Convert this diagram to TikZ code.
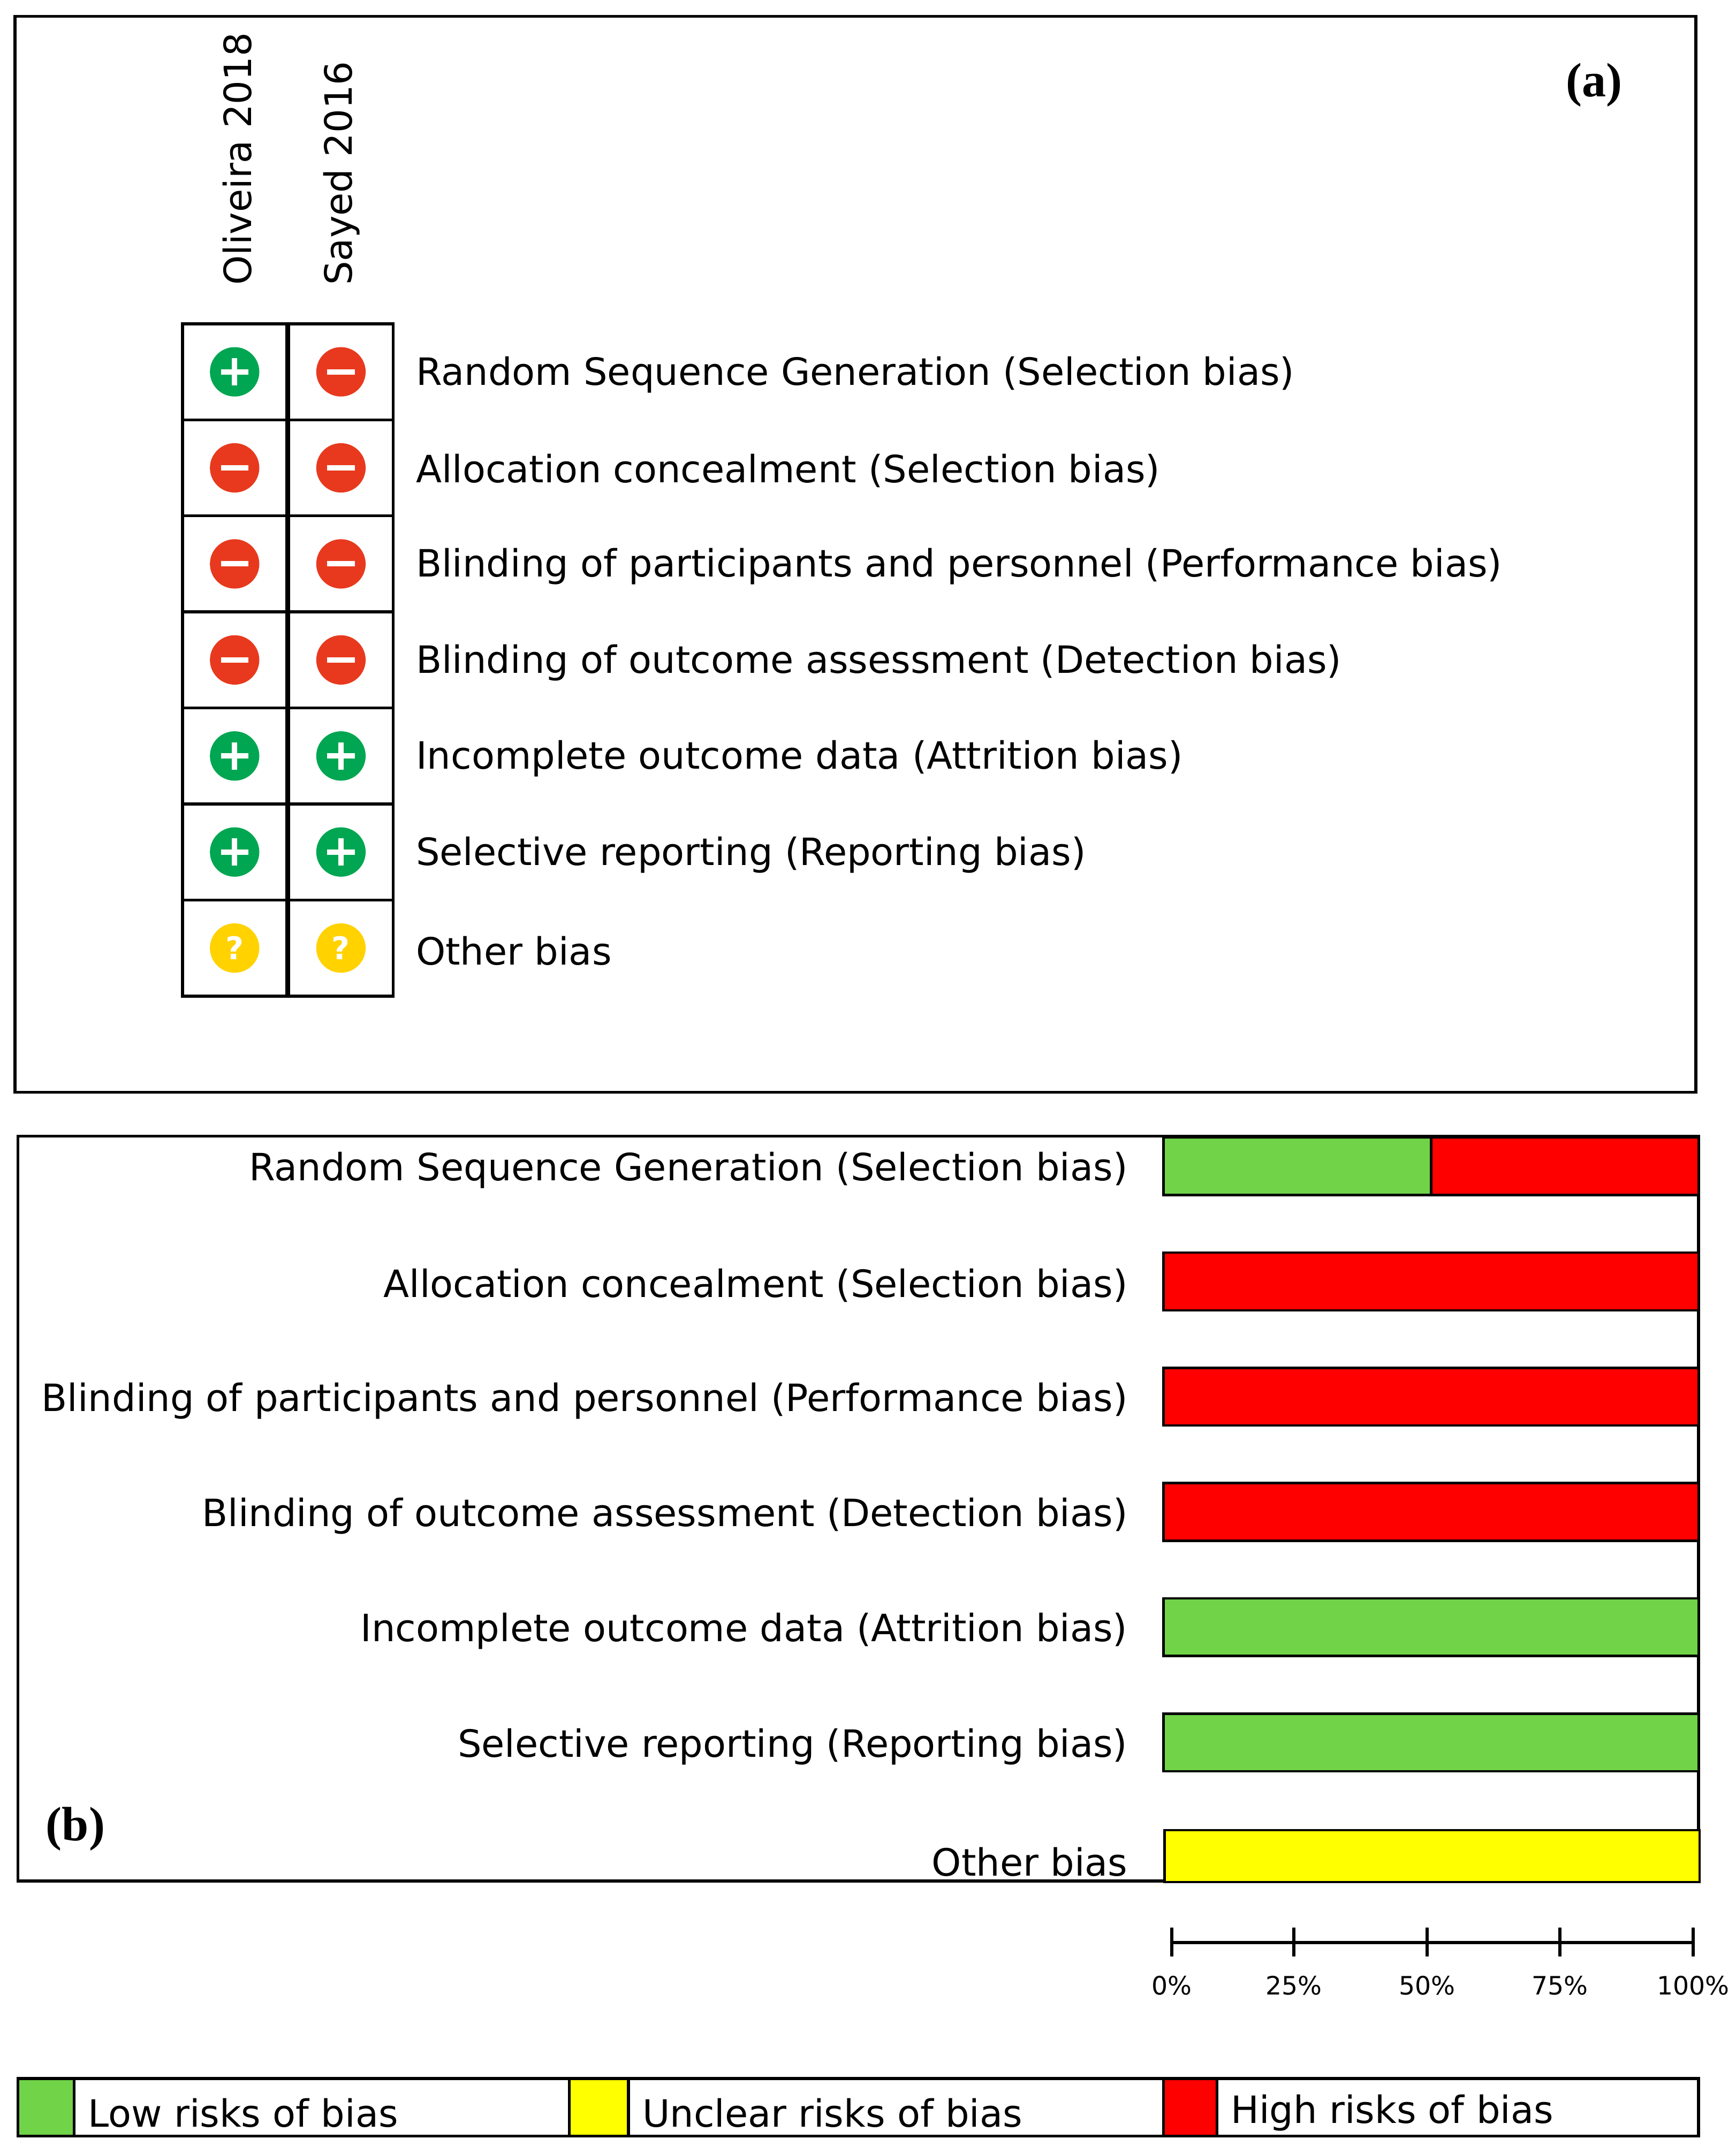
\documentclass[tikz,border=0pt]{standalone}
\usepackage{fontspec}
\setmainfont{DejaVu Sans}
\newfontfamily\serifbold{Liberation Serif}
\usetikzlibrary{positioning}
\definecolor{symgreen}{RGB}{0,166,81}
\definecolor{symred}{RGB}{232,57,30}
\definecolor{symyellow}{RGB}{255,210,0}
\definecolor{bargreen}{RGB}{112,211,72}
\definecolor{barred}{RGB}{255,0,0}
\definecolor{baryellow}{RGB}{255,255,0}
\begin{document}
\begin{tikzpicture}[x=0.02cm,y=-0.02cm,
  panel/.style={draw=black, line width=1.2pt},
  cell/.style={draw=black, line width=1.2pt, minimum width=1.52cm, minimum height=1.4cm, inner sep=0pt},
  sym/.style={circle, minimum size=0.72cm, inner sep=0pt},
  rowlabel/.style={anchor=west, font=\fontsize{15.6}{17}\selectfont},
  barlabel/.style={anchor=east, font=\fontsize{15.6}{17}\selectfont},
  bar/.style={draw=black, line width=1pt, minimum width=7.8cm, minimum height=0.84cm, inner sep=0pt, anchor=north west},
  ticklabel/.style={font=\fontsize{10.5}{12}\selectfont, anchor=north},
  tag/.style={font=\serifbold\bfseries\fontsize{20}{22}\selectfont}
  ]
  \useasboundingbox (0,0) rectangle (1265,1570);
  % panel (a)
  \draw[panel] (11,12) rectangle (1236,796);
  \node[tag] (taga) at (1162,62) {(a)};
  \node[rotate=90, anchor=west, font=\fontsize{15.6}{17}\selectfont] (oliv) at (173,214) {Oliveira 2018};
  \node[rotate=90, anchor=west, font=\fontsize{15.6}{17}\selectfont] (sayed) at (249,214) {Sayed 2016};
  \foreach \i/\a/\b/\txt in {
    1/p/m/{Random Sequence Generation (Selection bias)},
    2/m/m/{Allocation concealment (Selection bias)},
    3/m/m/{Blinding of participants and personnel (Performance bias)},
    4/m/m/{Blinding of outcome assessment (Detection bias)},
    5/p/p/{Incomplete outcome data (Attrition bias)},
    6/p/p/{Selective reporting (Reporting bias)},
    7/q/q/{Other bias}} {
    \node[cell] (c\i a) at (171,201+70*\i) {};
    \node[cell] (c\i b) at (248.5,201+70*\i) {};
    \node[rowlabel] (l\i) at (297,203+70*\i) {\txt};
    \foreach \c/\s in {a/\a, b/\b} {
      \if\s p
        \node[sym, fill=symgreen] (s\i\c) at (c\i\c) {};
        \draw[white, line width=2.2pt] ([xshift=-0.2cm]s\i\c.center) -- ([xshift=0.2cm]s\i\c.center)
          ([yshift=-0.2cm]s\i\c.center) -- ([yshift=0.2cm]s\i\c.center);
      \fi
      \if\s m
        \node[sym, fill=symred] (s\i\c) at (c\i\c) {};
        \draw[white, line width=2.2pt] ([xshift=-0.2cm]s\i\c.center) -- ([xshift=0.2cm]s\i\c.center);
      \fi
      \if\s q
        \node[sym, fill=symyellow, text=white, font=\bfseries\fontsize{13}{14}\selectfont] (s\i\c) at (c\i\c) {?};
      \fi
    }
  }
  % panel (b)
  \draw[panel] (13,828) rectangle (1238,1371);
  \node[tag] (tagb) at (55,1333) {(b)};
  \foreach \i/\g/\r/\txt in {
    0/195/195/{Random Sequence Generation (Selection bias)},
    1/0/390/{Allocation concealment (Selection bias)},
    2/0/390/{Blinding of participants and personnel (Performance bias)},
    3/0/390/{Blinding of outcome assessment (Detection bias)},
    4/390/0/{Incomplete outcome data (Attrition bias)},
    5/390/0/{Selective reporting (Reporting bias)}} {
    \node[barlabel] (b\i) at (828,853+84*\i) {\txt};
    \ifnum\g>0
      \draw[fill=bargreen, line width=1pt] (848,829+84*\i) rectangle ++(\g,42);
    \fi
    \ifnum\r>0
      \draw[fill=barred, line width=1pt] (848+\g,829+84*\i) rectangle ++(\r,42);
    \fi
  }
  \node[bar, fill=baryellow, minimum height=0.76cm] (b6bar) at (848,1333) {};
  \node[barlabel, anchor=south east] (b6) at (828,1374) {Other bias};
  % axis
  \coordinate (ax0) at (854,1416);
  \coordinate (ax1) at (1234,1416);
  \draw[line width=1.3pt] (ax0) -- (ax1);
  \foreach \x/\p in {854/0, 943/25, 1040/50, 1137/75, 1234/100} {
    \draw[line width=1.3pt] (\x,1405) -- (\x,1426);
    \node[ticklabel] (t\p) at (\x,1434) {\p\%};
  }
  % legend
  \draw[panel] (13,1515) rectangle (1238,1557);
  \draw[line width=1.2pt, fill=bargreen] (13,1515) rectangle (54,1557);
  \draw[line width=1.2pt, fill=baryellow] (415,1515) rectangle (458,1557);
  \draw[line width=1.2pt, fill=barred] (848,1515) rectangle (887,1557);
  \node[rowlabel] (lowr) at (58,1540) {Low risks of bias};
  \node[rowlabel] (uncl) at (462,1540) {Unclear risks of bias};
  \node[rowlabel] (high) at (891,1540) {High risks of bias};
\end{tikzpicture}
\end{document}
